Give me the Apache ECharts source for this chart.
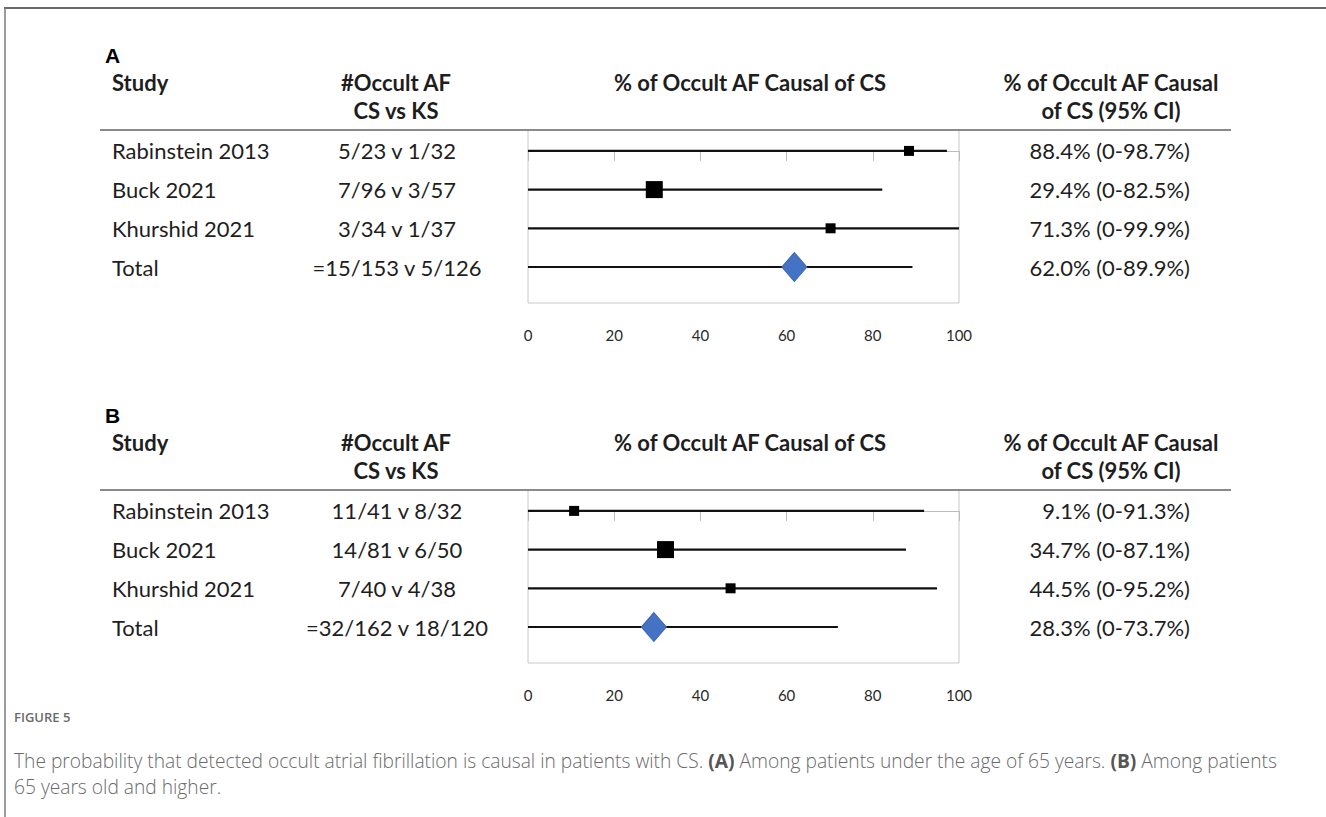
<!DOCTYPE html>
<html>
<head>
<meta charset="utf-8">
<script src="https://cdn.jsdelivr.net/npm/echarts@6/dist/echarts.min.js"></script>
<style>
html,body{margin:0;padding:0;background:#fff;}
#c{width:1326px;height:817px;}
</style>
</head>
<body>
<div id="c"></div>
<script>
// ---- data ----
const studies = ['Rabinstein 2013', 'Buck 2021', 'Khurshid 2021', 'Total'];
const countsA = ['5/23 v 1/32', '7/96 v 3/57', '3/34 v 1/37', '=15/153 v 5/126'];
const ciTextA = ['88.4% (0-98.7%)', '29.4% (0-82.5%)', '71.3% (0-99.9%)', '62.0% (0-89.9%)'];
const pointA = [88.4, 29.3, 70.2, 61.8];
const lowA = [0, 0, 0, 0];
const highA = [97.2, 82.2, 100, 89.2];

const countsB = ['11/41 v 8/32', '14/81 v 6/50', '7/40 v 4/38', '=32/162 v 18/120'];
const ciTextB = ['9.1% (0-91.3%)', '34.7% (0-87.1%)', '44.5% (0-95.2%)', '28.3% (0-73.7%)'];
const pointB = [10.7, 31.9, 47.0, 29.2];
const lowB = [0, 0, 0, 0];
const highB = [91.9, 87.7, 94.9, 71.9];

const xTicks = [0, 20, 40, 60, 80, 100];

// ---- styling ----
const BODY = 'Lato, "Open Sans", sans-serif';
const TXT = '#1e1e1e';
const bodySize = 22;
const headSize = 22;
const markerSizes = [10, 17, 10];
const markerSizesB = [10, 17, 10];

const chart = echarts.init(document.getElementById('c'), null, {renderer: 'svg'});

function xAxisCfg(g) {
  return {
    gridIndex: g, type: 'value', min: xTicks[0], max: xTicks[xTicks.length - 1], interval: 20,
    axisLine: {show: true, lineStyle: {color: '#bdbdbd', width: 1}},
    axisTick: {show: true, length: 10, lineStyle: {color: '#bdbdbd'}},
    splitLine: {show: false},
    axisLabel: {margin: 24, fontSize: 15, color: '#2a2a2a', fontFamily: BODY}
  };
}
function yAxisCfg(g) {
  return {
    gridIndex: g, type: 'value', inverse: true, min: -0.54, max: 3.93,
    axisLine: {show: false}, axisTick: {show: false}, axisLabel: {show: false}, splitLine: {show: false}
  };
}

function tableSeries(g, counts, ciText) {
  return {
    type: 'custom', xAxisIndex: g, yAxisIndex: g, silent: true, clip: false,
    data: studies.map((s, i) => [0, i]),
    encode: {x: 0, y: 1},
    renderItem: function (params, api) {
      const i = api.value(1);
      const y = api.coord([0, i])[1];
      const base = {fontFamily: BODY, fontSize: bodySize, fill: TXT, verticalAlign: 'middle'};
      return {
        type: 'group',
        children: [
          {type: 'text', x: 112, y: y, style: Object.assign({text: studies[i], align: 'left'}, base)},
          {type: 'text', x: 397, y: y, style: Object.assign({text: counts[i], align: 'center'}, base)},
          {type: 'text', x: 1190, y: y, style: Object.assign({text: ciText[i], align: 'right'}, base)}
        ]
      };
    }
  };
}

function ciSeries(g, low, high) {
  return {
    type: 'custom', xAxisIndex: g, yAxisIndex: g, silent: true, clip: false, z: 2,
    data: high.map((h, i) => [low[i], h, i]),
    encode: {x: [0, 1], y: 2},
    renderItem: function (params, api) {
      const p1 = api.coord([api.value(0), api.value(2)]);
      const p2 = api.coord([api.value(1), api.value(2)]);
      return {type: 'line', shape: {x1: p1[0], y1: p1[1], x2: p2[0], y2: p2[1]},
        style: {stroke: '#111', lineWidth: 2.2}};
    }
  };
}

function squareSeries(g, pts, sizes) {
  return {
    type: 'scatter', xAxisIndex: g, yAxisIndex: g, z: 3, silent: true,
    symbol: 'rect',
    data: pts.slice(0, 3).map((v, i) => [v, i]),
    symbolSize: function (val, params) { return sizes[params.dataIndex]; },
    itemStyle: {color: '#000', opacity: 1}
  };
}
function diamondSeries(g, pts) {
  return {
    type: 'scatter', xAxisIndex: g, yAxisIndex: g, z: 4, silent: true,
    symbol: 'diamond', symbolSize: [25, 29],
    data: [[pts[3], 3]],
    itemStyle: {color: '#4472C4', borderColor: '#3d66b0', borderWidth: 1, opacity: 1}
  };
}

function headerGraphics(dy, label) {
  const hb = {fontFamily: BODY, fontSize: headSize, fontWeight: 'bold', fill: TXT, verticalAlign: 'middle'};
  return [
    {type: 'text', x: 105, y: 55 + dy, style: {text: label, fontFamily: '"Liberation Sans", Arial, sans-serif', fontWeight: 'bold', fontSize: 21, fill: '#000', verticalAlign: 'middle'}},
    {type: 'text', x: 112, y: 82 + dy, style: Object.assign({text: 'Study', align: 'left'}, hb)},
    {type: 'text', x: 396, y: 82 + dy, style: Object.assign({text: '#Occult AF', align: 'center'}, hb)},
    {type: 'text', x: 396, y: 110 + dy, style: Object.assign({text: 'CS vs KS', align: 'center'}, hb)},
    {type: 'text', x: 750, y: 82 + dy, style: Object.assign({text: '% of Occult AF Causal of CS', align: 'center'}, hb)},
    {type: 'text', x: 1111, y: 82 + dy, style: Object.assign({text: '% of Occult AF Causal', align: 'center'}, hb)},
    {type: 'text', x: 1111, y: 110 + dy, style: Object.assign({text: 'of CS (95% CI)', align: 'center'}, hb)},
    {type: 'line', z: 10, shape: {x1: 100, y1: 130 + dy, x2: 1231, y2: 130 + dy}, style: {stroke: '#8a8a8a', lineWidth: 2}}
  ];
}

const capFont = '"Open Sans", Lato, sans-serif';
const capSize = 19.2;
const graphics = [].concat(
  [
    {type: 'line', shape: {x1: 4, y1: 8, x2: 1326, y2: 8}, style: {stroke: '#3a3a3a', lineWidth: 1.5}},
    {type: 'line', shape: {x1: 5, y1: 8, x2: 5, y2: 817}, style: {stroke: '#7a7a7a', lineWidth: 1.5}}
  ],
  headerGraphics(0, 'A'),
  headerGraphics(360, 'B'),
  [
    {type: 'text', x: 14, y: 717, style: {text: 'FIGURE 5', fontFamily: capFont, fontSize: 13, fontWeight: 600, fill: '#6b6b6b', verticalAlign: 'middle'}},
    {type: 'text', x: 14, y: 760, style: {
      text: 'The probability that detected occult atrial fibrillation is causal in patients with CS. {b|(A)} Among patients under the age of 65 years. {b|(B)} Among patients',
      fontFamily: capFont, fontSize: capSize, fontWeight: 300, fill: '#6a6a6a', verticalAlign: 'middle',
      rich: {b: {fontFamily: capFont, fontSize: capSize, fontWeight: 'bold', fill: '#555'}}
    }},
    {type: 'text', x: 14, y: 786, style: {text: '65 years old and higher.', fontFamily: capFont, fontSize: capSize, fontWeight: 300, fill: '#6a6a6a', verticalAlign: 'middle'}}
  ]
);

chart.setOption({
  animation: false,
  backgroundColor: '#fff',
  grid: [
    {left: 528, right: 1326 - 959, top: 130, bottom: 817 - 303, show: true, borderColor: '#c8c8c8', borderWidth: 1, backgroundColor: 'transparent'},
    {left: 528, right: 1326 - 959, top: 490, bottom: 817 - 663, show: true, borderColor: '#c8c8c8', borderWidth: 1, backgroundColor: 'transparent'}
  ],
  xAxis: [xAxisCfg(0), xAxisCfg(1)],
  yAxis: [yAxisCfg(0), yAxisCfg(1)],
  series: [
    tableSeries(0, countsA, ciTextA),
    ciSeries(0, lowA, highA),
    squareSeries(0, pointA, markerSizes),
    diamondSeries(0, pointA),
    tableSeries(1, countsB, ciTextB),
    ciSeries(1, lowB, highB),
    squareSeries(1, pointB, markerSizesB),
    diamondSeries(1, pointB)
  ],
  graphic: graphics
});
</script>
</body>
</html>
